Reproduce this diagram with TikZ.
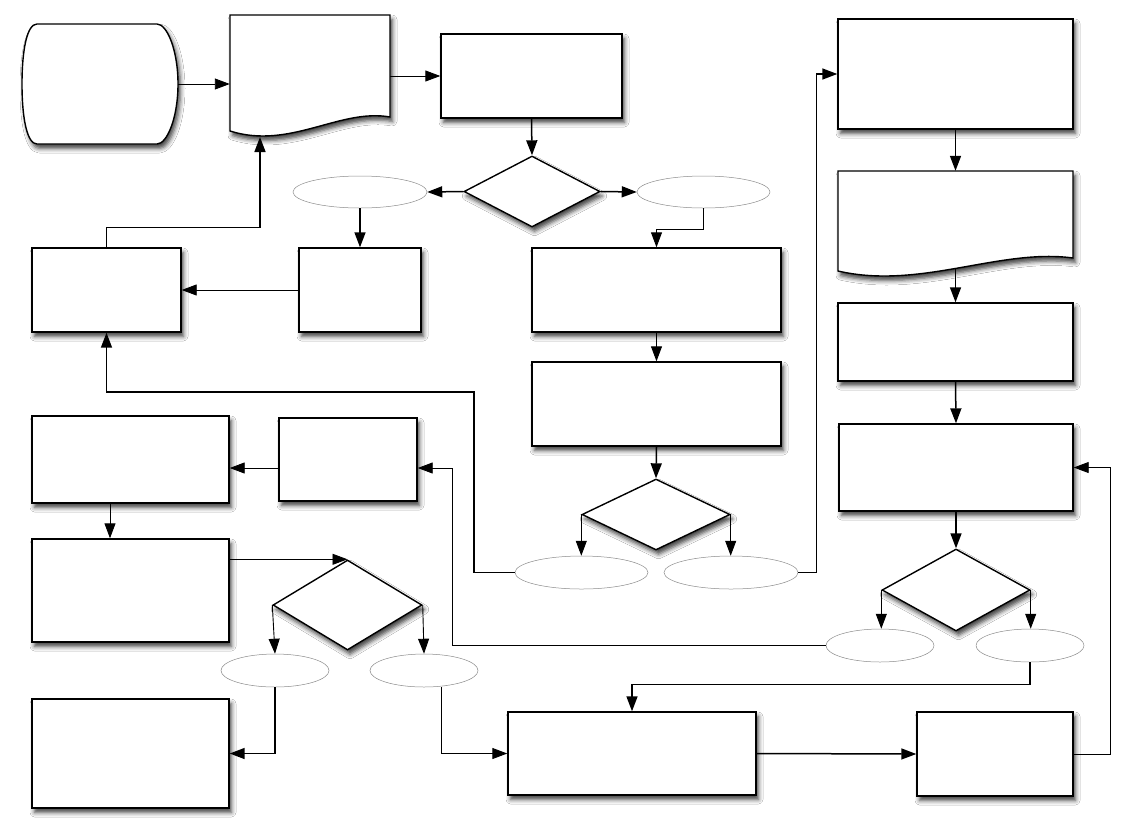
\documentclass[tikz,border=0pt]{standalone}
\usetikzlibrary{shapes.geometric,shadows.blur,arrows.meta,calc}
\begin{document}
\begin{tikzpicture}[x=1pt,y=-1pt,
  shad/.style={blur shadow={shadow xshift=2.5pt, shadow yshift=-4.5pt, shadow blur radius=4.5pt, shadow opacity=75}},
  box/.style={draw, line width=1.4pt, fill=white, inner sep=0pt, shad},
  dia/.style={diamond, draw, line width=1.4pt, fill=white, inner sep=0pt, shad},
  oval/.style={ellipse, draw=black!45, line width=0.5pt, fill=white, inner sep=0pt},
  ghost/.style={inner sep=0pt, draw=none},
  conn/.style={line width=0.9pt, -{Triangle[length=15pt 0,width=11pt 0,fill=black]}},
  connb/.style={conn, line width=1.5pt}]
\useasboundingbox[fill=white] (0,0) rectangle (1126,820);

% terminal shape
\draw[line width=1.4pt, fill=white, shad]
  (37,24) -- (157,24) .. controls (167,24) and (178,50) .. (178,84)
  .. controls (178,118) and (167,144) .. (157,144) -- (37,144)
  .. controls (27,144) and (22,118) .. (22,84)
  .. controls (22,50) and (27,24) .. (37,24) -- cycle;
\node[ghost, minimum width=156pt, minimum height=120pt] (term) at (100,84) {};

% document 1
\draw[line width=1.4pt, fill=white, shad]
  (230,15) -- (390,15) -- (390,117)
  .. controls (340,108) and (290,150) .. (230,131) -- cycle;
\node[ghost, minimum width=160pt, minimum height=122pt] (doc1) at (310,76) {};
\coordinate (doc1bot) at (260,137);

% document 2
\draw[line width=1.4pt, fill=white, shad]
  (838,171) -- (1073,171) -- (1073,258)
  .. controls (1000,248) and (920,290) .. (838,271) -- cycle;
\node[ghost, minimum width=235pt, minimum height=105pt] (doc2) at (955.5,223.5) {};
\coordinate (doc2bot) at (955.5,268);

% rectangles
\node[box, minimum width=181pt, minimum height=84pt] (A) at (531.5,76) {};
\node[box, minimum width=122pt, minimum height=84pt] (B) at (360,290) {};
\node[box, minimum width=149pt, minimum height=84pt] (C) at (106.5,290) {};
\node[box, minimum width=249pt, minimum height=84pt] (D) at (656.5,290) {};
\node[box, minimum width=249pt, minimum height=84pt] (E) at (656.5,404) {};
\node[box, minimum width=235pt, minimum height=110pt] (F) at (955.5,74) {};
\node[box, minimum width=235pt, minimum height=78pt] (G) at (955.5,342) {};
\node[box, minimum width=234pt, minimum height=87pt] (H) at (956,467.5) {};
\node[box, minimum width=138pt, minimum height=83pt] (I) at (348,459.5) {};
\node[box, minimum width=197pt, minimum height=87pt] (J) at (130.5,459.5) {};
\node[box, minimum width=197pt, minimum height=103pt] (K) at (130.5,590.5) {};
\node[box, minimum width=197pt, minimum height=109pt] (L) at (130.5,753.5) {};
\node[box, minimum width=248pt, minimum height=83pt] (M) at (632,753.5) {};
\node[box, minimum width=156pt, minimum height=84pt] (N) at (995,754) {};

% diamonds
\node[dia, minimum width=136pt, minimum height=71pt] (D1) at (532,191.5) {};
\node[dia, minimum width=148pt, minimum height=71pt] (D2) at (656,514.5) {};
\node[dia, minimum width=148pt, minimum height=82pt] (D3) at (956,590) {};
\node[dia, minimum width=149pt, minimum height=90pt] (D4) at (347.5,605) {};

% ellipses
\node[oval, minimum width=134pt, minimum height=32pt] (E1) at (360,192) {};
\node[oval, minimum width=133pt, minimum height=32pt] (E2) at (703.5,192) {};
\node[oval, minimum width=133pt, minimum height=33pt] (E3) at (581.5,572.5) {};
\node[oval, minimum width=134pt, minimum height=33pt] (E4) at (731,572.5) {};
\node[oval, minimum width=108pt, minimum height=33pt] (E5) at (880,645.5) {};
\node[oval, minimum width=108pt, minimum height=33pt] (E6) at (1030,645.5) {};
\node[oval, minimum width=108pt, minimum height=33pt] (E7) at (275,670.5) {};
\node[oval, minimum width=108pt, minimum height=33pt] (E8) at (424,670.5) {};

% bend coordinates
\coordinate (b1) at (474,392);
\coordinate (b3) at (452,468);

% connectors
\draw[conn] (term.east) -- (term.east -| doc1.west);
\draw[conn] (A.west -| doc1.east) -- (A.west);
\draw[connb] (A.south) -- (D1.north);
\draw[connb] (D1.west) -- (E1.east);
\draw[connb] (D1.east) -- (E2.west);
\draw[connb] (E1.south) -- (B.north);
\draw[conn] (B.west) -- (C.east);
\draw[connb] (C.north) -- ++(0,-20) -| (doc1bot);
\draw[conn] (E2.south) -- ++(0,21) -| (D.north);
\draw[conn] (D.south) -- (E.north);
\draw[connb] (E.south) -- (D2.north);
\draw[conn] (D2.west) -- (D2.west |- E3.north);
\draw[conn] (D2.east) -- (D2.east |- E4.north);
\draw[connb] (E3.west) -| (b1) -| (C.south);
\draw[connb] (E4.east) -- ++(18,0) |- (F.west);
\draw[connb] (F.south) -- (doc2.north);
\draw[connb] (doc2bot) -- (G.north);
\draw[connb] (G.south) -- (H.north);
\draw[connb] (H.south) -- (D3.north);
\draw[conn] (D3.west) -- (D3.west |- E5.north);
\draw[conn] (D3.east) -- (D3.east |- E6.north);
\draw[conn] (E5.west) -| (b3) -- (b3 -| I.east);
\draw[conn] (b3 -| I.west) -- (b3 -| J.east);
\draw[conn] ([xshift=-20.5pt]J.south) -- ([xshift=-20.5pt]K.north);
\draw[conn] (K.east |- D4.north) -- (D4.north);
\draw[conn] (D4.west) -- (E7.north);
\draw[conn] (D4.east) -- (E8.north);
\draw[connb] (E7.south) |- (L.east);
\draw[conn] ([xshift=17pt]E8.south) |- (M.west);
\draw[connb] (E6.south) -- ++(0,22) -| (M.north);
\draw[connb] (M.east) -- (N.west);
\draw[conn] (N.east) -- ++(37,0) |- (H.east);
\end{tikzpicture}
\end{document}
